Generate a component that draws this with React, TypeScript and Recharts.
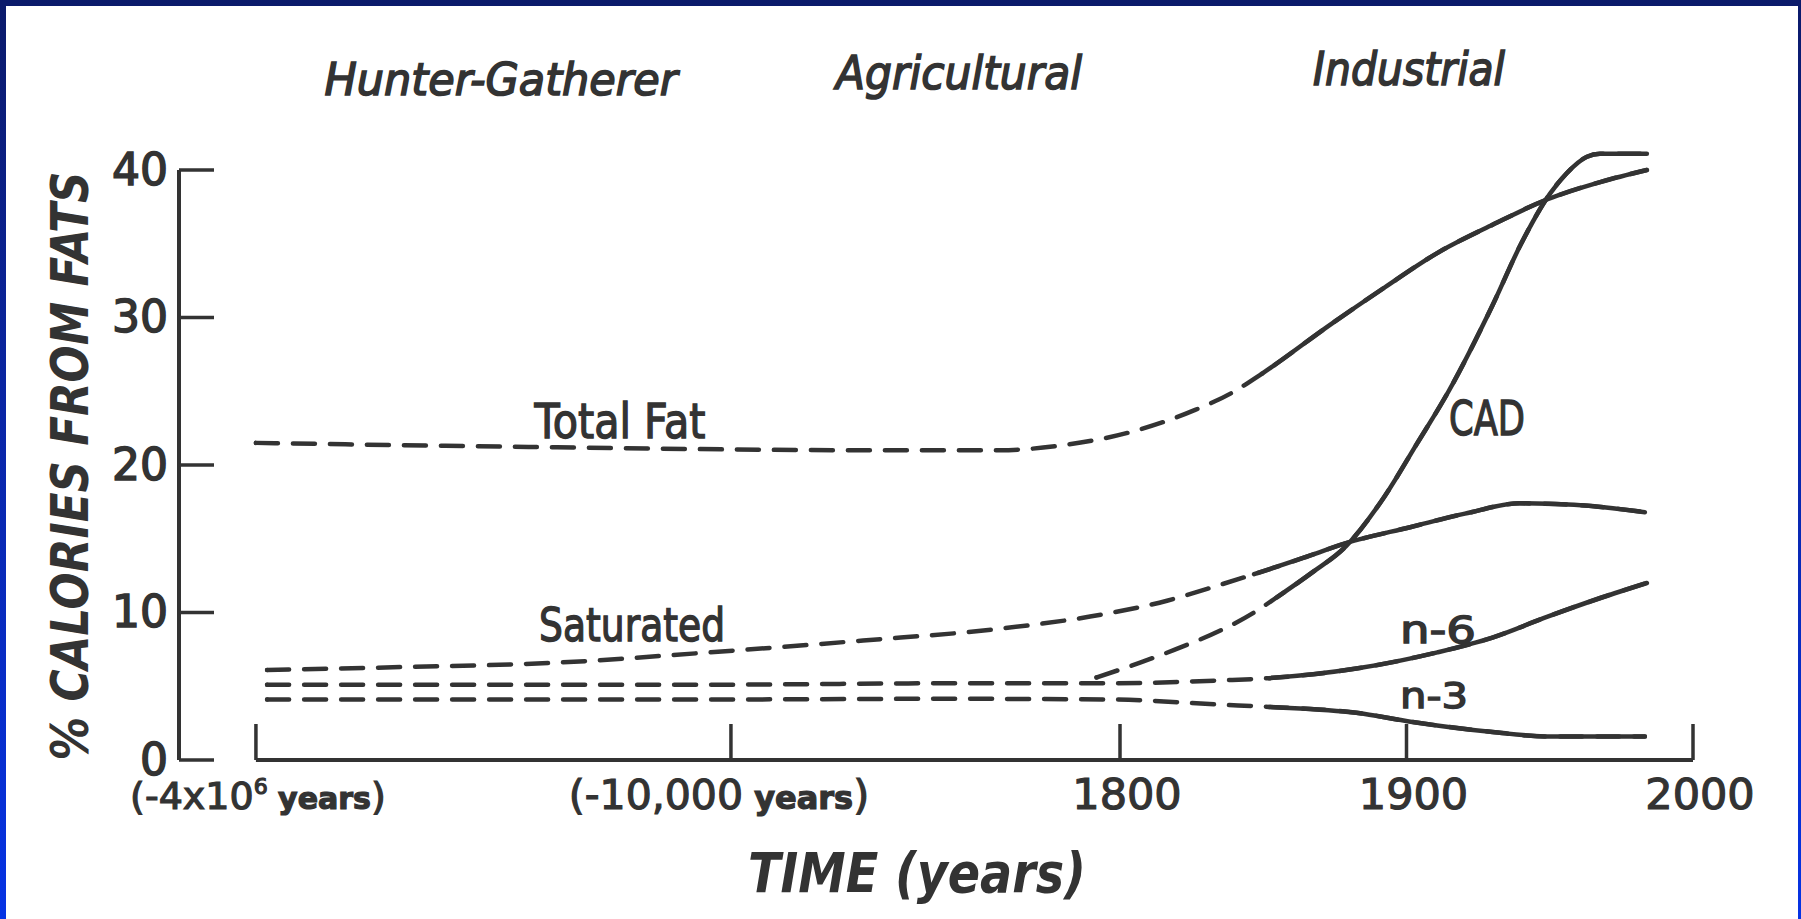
import React from 'react';
import { LineChart, Line, XAxis, YAxis, ReferenceLine, ReferenceDot } from 'recharts';

const INK = '#333333';
const FONT = "'DejaVu Sans', 'Liberation Sans', sans-serif";

// x = position on the broken TIME axis: 1800 = 0, 1900 = 1, 2000 = 2 (earlier eras compressed)
const timeTicks = [-3.016, -1.358, 0, 1, 2];
const timeTickLabels = ['(-4x10', '(-10,000', '1800', '1900', '2000'];
const yTicks = [0, 10, 20, 30, 40];
const T_MIN = -3.2845;
const T_MAX = 2;
const Y_MAX = 42;
const Y_AXIS_TOP = 40;

// each curve: dashed up to solidFrom, solid afterwards
const totalFat = [
  { t: -3.016, v: 21.5 }, { t: -1.965, v: 21.2 }, { t: -0.897, v: 21.0 }, { t: -0.419, v: 21.0 },
  { t: -0.216, v: 21.3 }, { t: 0.031, v: 22.2 }, { t: 0.258, v: 23.7 }, { t: 0.391, v: 24.9 },
  { t: 0.496, v: 26.2 }, { t: 0.733, v: 29.5 }, { t: 0.921, v: 32.0 }, { t: 1.11, v: 34.4 },
  { t: 1.302, v: 36.3 }, { t: 1.49, v: 38.0 }, { t: 1.679, v: 39.2 }, { t: 1.839, v: 40.0 },
];
const saturated = [
  { t: -2.977, v: 6.1 }, { t: -2.508, v: 6.3 }, { t: -1.965, v: 6.6 }, { t: -1.431, v: 7.3 },
  { t: -0.897, v: 8.1 }, { t: -0.419, v: 8.9 }, { t: -0.024, v: 10.0 }, { t: 0.164, v: 10.8 },
  { t: 0.353, v: 11.9 }, { t: 0.468, v: 12.6 }, { t: 0.639, v: 13.7 }, { t: 0.789, v: 14.7 },
  { t: 1.016, v: 15.8 }, { t: 1.204, v: 16.7 }, { t: 1.396, v: 17.4 }, { t: 1.585, v: 17.3 },
  { t: 1.832, v: 16.8 },
];
const n6 = [
  { t: -2.977, v: 5.1 }, { t: -1.5, v: 5.1 }, { t: -0.593, v: 5.2 }, { t: -0.024, v: 5.2 },
  { t: 0.353, v: 5.4 }, { t: 0.52, v: 5.55 }, { t: 0.825, v: 6.2 }, { t: 1.108, v: 7.3 },
  { t: 1.3, v: 8.3 }, { t: 1.49, v: 9.7 }, { t: 1.679, v: 11.0 }, { t: 1.839, v: 12.0 },
];
const n3 = [
  { t: -2.977, v: 4.1 }, { t: -1.5, v: 4.1 }, { t: -0.593, v: 4.15 }, { t: -0.024, v: 4.1 },
  { t: 0.353, v: 3.75 }, { t: 0.52, v: 3.6 }, { t: 0.825, v: 3.2 }, { t: 1.014, v: 2.6 },
  { t: 1.3, v: 1.9 }, { t: 1.49, v: 1.6 }, { t: 1.832, v: 1.6 },
];
const cad = [
  { t: -0.082, v: 5.6 }, { t: 0.07, v: 6.6 }, { t: 0.22, v: 7.7 }, { t: 0.353, v: 8.8 },
  { t: 0.468, v: 10.0 }, { t: 0.545, v: 11.0 }, { t: 0.67, v: 12.7 }, { t: 0.789, v: 14.5 },
  { t: 0.921, v: 17.8 }, { t: 1.035, v: 21.4 }, { t: 1.147, v: 25.0 }, { t: 1.302, v: 30.9 },
  { t: 1.4, v: 35.0 }, { t: 1.501, v: 38.4 }, { t: 1.56, v: 39.8 }, { t: 1.63, v: 40.9 },
  { t: 1.675, v: 41.1 }, { t: 1.839, v: 41.1 },
];

const curves = [
  { id: 'totalFat', data: totalFat, solidFrom: 0.496 },
  { id: 'saturated', data: saturated, solidFrom: 0.468 },
  { id: 'n6', data: n6, solidFrom: 0.52 },
  { id: 'n3', data: n3, solidFrom: 0.52 },
  { id: 'cad', data: cad, solidFrom: 0.545 },
];

const curveLabels = [
  { text: 'Total Fat', t: -1.745, v: 21.83, size: 48, len: 171 },
  { text: 'Saturated', t: -1.703, v: 8.07, size: 46, len: 186 },
  { text: 'CAD', t: 1.281, v: 22.03, size: 48, len: 76 },
  { text: 'n-6', t: 1.11, v: 7.93, size: 38, len: 76 },
  { text: 'n-3', t: 1.096, v: 3.53, size: 36, len: 68 },
];

const eraLabels = [
  { text: 'Hunter-Gatherer', cx: 501, base: 95, size: 44, len: 353 },
  { text: 'Agricultural', cx: 959, base: 89, size: 46, len: 246 },
  { text: 'Industrial', cx: 1409, base: 85, size: 46, len: 192 },
];

const CHART_W = 1801;
const CHART_H = 919;
const MARGIN = { top: 140.5, right: 108, bottom: 99, left: 79 };
const Y_AXIS_W = 100;
const X_AXIS_H = 60;
const PLOT_W = CHART_W - MARGIN.left - Y_AXIS_W - MARGIN.right;
const PLOT_H = CHART_H - MARGIN.top - MARGIN.bottom - X_AXIS_H;
const PX_PER_T = PLOT_W / (T_MAX - T_MIN);
const PX_PER_V = PLOT_H / Y_MAX;

const DASH = '22 15';

// on-screen length of the dashed part of a curve (polyline through its points)
const dashedLength = (data: { t: number; v: number }[], tEnd: number) => {
  let len = 0;
  for (let i = 1; i < data.length && data[i].t <= tEnd + 1e-9; i++) {
    const dx = (data[i].t - data[i - 1].t) * PX_PER_T;
    const dy = (data[i].v - data[i - 1].v) * PX_PER_V;
    len += Math.sqrt(dx * dx + dy * dy);
  }
  return len;
};

const renderXTick = (p: any) => {
  const { x, y, index } = p;
  const base = y + 49;
  const tickLine = <line x1={x} y1={y} x2={x} y2={y - 36} stroke={INK} strokeWidth={3.5} />;
  const common = { fontFamily: FONT, fill: INK, stroke: INK, strokeWidth: 1.2, textAnchor: 'middle' as const };
  let label: any;
  if (index === 0) {
    label = (
      <text x={x + 2} y={base} fontSize={38} {...common}>
        {timeTickLabels[0]}
        <tspan fontSize={22} dy={-15}>6</tspan>
        <tspan fontSize={30} fontWeight="bold" dy={15}> years</tspan>
        <tspan fontSize={38}>)</tspan>
      </text>
    );
  } else if (index === 1) {
    label = (
      <text x={x - 12} y={base} fontSize={41} {...common}>
        {timeTickLabels[1]}
        <tspan fontSize={32} fontWeight="bold"> years</tspan>
        <tspan fontSize={41}>)</tspan>
      </text>
    );
  } else {
    label = (
      <text x={x + 7} y={base} fontSize={43} {...common}>
        {timeTickLabels[index]}
      </text>
    );
  }
  return (
    <g>
      {tickLine}
      {label}
    </g>
  );
};

const renderYTick = (p: any) => {
  const { x, y, payload } = p;
  return (
    <g>
      <line x1={x} y1={y} x2={x + 35} y2={y} stroke={INK} strokeWidth={3.5} />
      <text
        x={x - 11}
        y={y}
        dy="0.34em"
        textAnchor="end"
        fontFamily={FONT}
        fontSize={44}
        fill={INK}
        stroke={INK}
        strokeWidth={1.5}
      >
        {payload.value}
      </text>
    </g>
  );
};

const makeCurveLabel = (text: string, size: number, len: number) => (props: any) => {
  const vb = props.viewBox || {};
  const cx = (vb.x || 0) + (vb.width || 0) / 2;
  const cy = (vb.y || 0) + (vb.height || 0) / 2;
  return (
    <text
      x={cx}
      y={cy}
      textAnchor="middle"
      fontFamily={FONT}
      fontSize={size}
      fill={INK}
      stroke={INK}
      strokeWidth={1.4}
      textLength={len}
      lengthAdjust="spacingAndGlyphs"
    >
      {text}
    </text>
  );
};

const lineProps = {
  type: 'monotone' as const,
  dataKey: 'v',
  stroke: INK,
  strokeWidth: 4.5,
  dot: false,
  activeDot: false,
  isAnimationActive: false,
  strokeLinecap: 'round' as const,
  legendType: 'none' as const,
};

export default function App() {
  return (
    <div
      style={{
        position: 'absolute',
        left: 0,
        top: 0,
        width: CHART_W,
        height: CHART_H,
        overflow: 'hidden',
        background: 'linear-gradient(180deg, #0b1a6a 0%, #0a26a6 45%, #0633e4 100%)',
      }}
    >
      <div style={{ position: 'absolute', left: 6, top: 6, width: 1792, height: 913, background: '#ffffff' }} />
      <div style={{ position: 'absolute', left: 0, top: 0 }}>
        <LineChart width={CHART_W} height={CHART_H} margin={MARGIN}>
          <XAxis
            type="number"
            dataKey="t"
            domain={[T_MIN, T_MAX]}
            allowDataOverflow
            ticks={timeTicks}
            interval={0}
            axisLine={false}
            tickLine={false}
            tickSize={0}
            tickMargin={0}
            height={X_AXIS_H}
            tick={renderXTick}
          />
          <YAxis
            type="number"
            domain={[0, Y_MAX]}
            allowDataOverflow
            ticks={yTicks}
            interval={0}
            axisLine={false}
            tickLine={false}
            tickSize={0}
            tickMargin={0}
            width={Y_AXIS_W}
            tick={renderYTick}
          />
          <ReferenceLine
            segment={[{ x: T_MIN, y: 0 }, { x: T_MIN, y: Y_AXIS_TOP }]}
            stroke={INK}
            strokeWidth={4}
            ifOverflow="visible"
          />
          <ReferenceLine
            segment={[{ x: timeTicks[0], y: 0 }, { x: T_MAX, y: 0 }]}
            stroke={INK}
            strokeWidth={4}
            ifOverflow="visible"
          />
          {curves.map((c) => (
            <Line key={c.id + '-dashed'} {...lineProps} data={c.data} strokeDasharray={DASH} />
          ))}
          {curves.map((c) => (
            <Line
              key={c.id + '-solid'}
              {...lineProps}
              data={c.data}
              strokeDasharray={`0 ${dashedLength(c.data, c.solidFrom).toFixed(1)} 100000`}
            />
          ))}
          {curveLabels.map((c) => (
            <ReferenceDot
              key={c.text}
              x={c.t}
              y={c.v}
              r={0}
              fill="none"
              stroke="none"
              ifOverflow="visible"
              label={makeCurveLabel(c.text, c.size, c.len)}
            />
          ))}
        </LineChart>
      </div>
      <svg
        width={CHART_W}
        height={CHART_H}
        style={{ position: 'absolute', left: 0, top: 0, pointerEvents: 'none' }}
      >
        {eraLabels.map((e) => (
          <text
            key={e.text}
            x={e.cx}
            y={e.base}
            textAnchor="middle"
            fontFamily={FONT}
            fontStyle="italic"
            fontSize={e.size}
            fill={INK}
            stroke={INK}
            strokeWidth={1.6}
            textLength={e.len}
            lengthAdjust="spacingAndGlyphs"
          >
            {e.text}
          </text>
        ))}
        <text
          transform="translate(88,466) rotate(-90)"
          x={0}
          y={0}
          textAnchor="middle"
          fontFamily={FONT}
          fontStyle="italic"
          fontWeight="bold"
          fontSize={52}
          fill={INK}
          textLength={589}
          lengthAdjust="spacingAndGlyphs"
        >
          % CALORIES FROM FATS
        </text>
        <text
          x={917}
          y={892}
          textAnchor="middle"
          fontFamily={FONT}
          fontStyle="italic"
          fontWeight="bold"
          fontSize={55}
          fill={INK}
          textLength={338}
          lengthAdjust="spacingAndGlyphs"
        >
          TIME (years)
        </text>
      </svg>
    </div>
  );
}
